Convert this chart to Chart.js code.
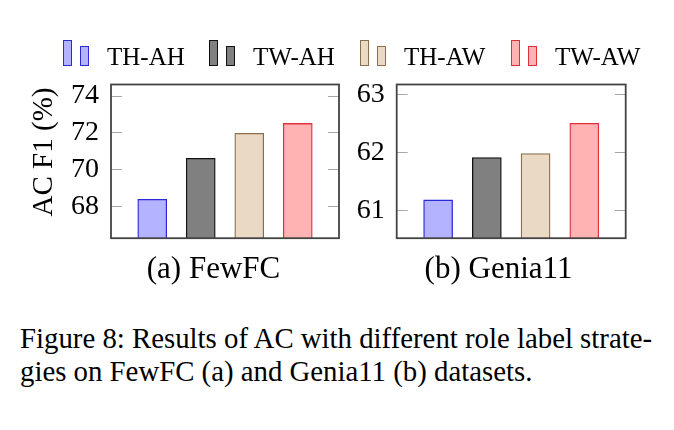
<!DOCTYPE html>
<html>
<head>
<meta charset="utf-8">
<title>Figure 8</title>
<script src="https://cdn.jsdelivr.net/npm/chart.js"></script>
<style>
  body { margin: 0; width: 674px; height: 430px; background: #fff; position: relative; overflow: hidden;
         font-family: "Liberation Serif", "Times New Roman", serif; color: #000; }
  .txt { position: absolute; line-height: 1; white-space: nowrap; }
  canvas { position: absolute; top: 0; }
  .ico { position: absolute; width: 9px; box-sizing: border-box; border: 1.5px solid; }
</style>
</head>
<body>
  <canvas id="fewfc" width="345" height="267" style="left:0px"></canvas>
  <canvas id="genia" width="292" height="267" style="left:340px"></canvas>

  <div class="txt" id="ytitle" style="font-size:29px; left:42px; top:151.5px; transform:translate(-50%,-50%) rotate(-90deg);">AC F1 (%)</div>
  <div class="txt" style="font-size:31px; left:213.5px; top:252px; transform:translateX(-50%);">(a) FewFC</div>
  <div class="txt" style="font-size:31px; left:498.5px; top:252px; transform:translateX(-50%);">(b) Genia11</div>

  <div class="txt" style="font-size:28.8px; left:20px; top:324px;">Figure 8: Results of AC with different role label strate-</div>
  <div class="txt" style="font-size:28.8px; left:20px; top:357px;">gies on FewFC (a) and Genia11 (b) datasets.</div>

  <script>
    // 데이터
    const series = ["TH-AH", "TW-AH", "TH-AW", "TW-AW"];
    const fewfcValues = [68.38, 70.6, 71.95, 72.49];
    const geniaValues = [61.18, 61.91, 61.98, 62.5];
    const fewfcTicks = [68, 70, 72, 74];
    const geniaTicks = [61, 62, 63];

    // 색상
    const fills = ["#b3b3ff", "#808080", "#ead9c4", "#ffb3b3"];
    const lines = ["#2a2ad6", "#111111", "#8a6e50", "#e0303a"];

    // 범례 (HTML)
    const legendLeft = [63, 209, 360, 511];
    series.forEach((s, i) => {
      const x = legendLeft[i];
      const b1 = document.createElement("div");
      b1.className = "ico";
      b1.style.cssText = `left:${x}px; top:40px; height:26px; background:${fills[i]}; border-color:${lines[i]};`;
      const b2 = document.createElement("div");
      b2.className = "ico";
      b2.style.cssText = `left:${x + 17}px; top:46px; height:20px; background:${fills[i]}; border-color:${lines[i]};`;
      const t = document.createElement("div");
      t.className = "txt";
      t.style.cssText = `left:${x + 44}px; top:44px; font-size:25px;`;
      t.textContent = s;
      document.body.append(b1, b2, t);
    });

    // 축 테두리 + 안쪽 눈금
    const frame = {
      id: "frame",
      afterDraw(chart) {
        const { ctx, chartArea: a, scales: { y } } = chart;
        ctx.save();
        ctx.strokeStyle = "#a8a8a8";
        ctx.lineWidth = 1.2;
        y.ticks.forEach(t => {
          const py = Math.round(y.getPixelForValue(t.value)) + 0.5;
          ctx.beginPath();
          ctx.moveTo(a.left, py); ctx.lineTo(a.left + 11, py);
          ctx.moveTo(a.right - 11, py); ctx.lineTo(a.right, py);
          ctx.stroke();
        });
        ctx.strokeStyle = "#444";
        ctx.lineWidth = 1.8;
        ctx.strokeRect(a.left, a.top, a.right - a.left, a.bottom - a.top);
        ctx.restore();
      }
    };

    function drawPanel(id, values, ticks, yMin, yMax, axisWidth, padRight) {
      const ctx = document.getElementById(id).getContext("2d");
      return new Chart(ctx, {
        type: "bar",
        data: {
          datasets: series.map((s, i) => ({
            label: s,
            data: [{ x: i + 1, y: values[i] }],
            backgroundColor: fills[i],
            borderColor: lines[i],
            borderWidth: 1.3,
            barThickness: 29,
            grouped: false
          }))
        },
        options: {
          responsive: false,
          animation: false,
          devicePixelRatio: 1,
          layout: { padding: { top: 84.5, right: padRight, bottom: 0, left: 0 } },
          plugins: { legend: { display: false }, tooltip: { enabled: false } },
          scales: {
            x: { type: "linear", min: 0.15, max: 4.85, offset: false, display: false },
            y: {
              min: yMin, max: yMax,
              afterBuildTicks: sc => { sc.ticks = ticks.map(v => ({ value: v })); },
              afterFit: sc => { sc.width = axisWidth; },
              grid: { display: false, drawTicks: false },
              border: { display: false },
              ticks: { padding: 12, color: "#000", font: { family: "'Liberation Serif', serif", size: 28 } }
            }
          }
        },
        plugins: [frame]
      });
    }

    drawPanel("fewfc", fewfcValues, fewfcTicks, 66.27, 74.6, 111, 6);
    drawPanel("genia", geniaValues, geniaTicks, 60.52, 63.17, 56.7, 6.3);
  </script>
</body>
</html>
